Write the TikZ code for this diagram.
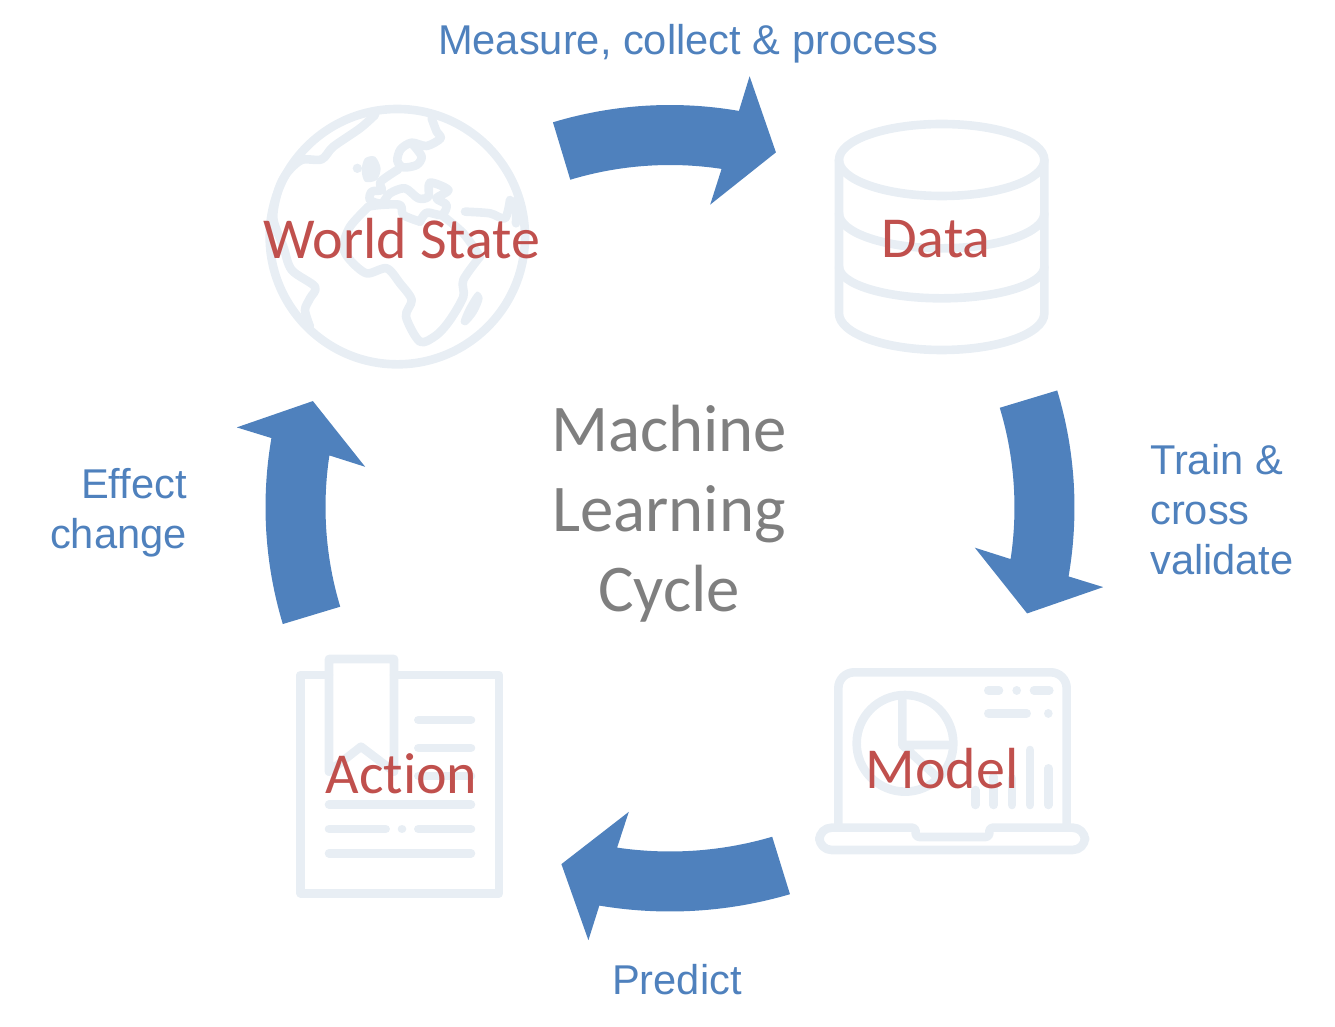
\documentclass[tikz,border=0pt]{standalone}
\usepackage{fontspec}
\setmainfont[Ligatures=NoCommon]{Carlito}
\newfontfamily\labelfont{Liberation Sans}
\definecolor{flow}{HTML}{4F81BD}
\definecolor{stage}{HTML}{C0504D}
\definecolor{icon}{HTML}{E8EEF4}
\definecolor{title}{HTML}{7F7F7F}
\tikzset{
  iconline/.style={draw=icon,line width=4.9pt,line cap=round,line join=round},
  zoomed/.style={shift={#1},xscale=1/3,yscale=-1/3},
  stagetext/.style={text=stage,font=\fontsize{33}{33}\selectfont},
  flowtext/.style={text=flow,font=\labelfont\fontsize{23.7}{28.5}\selectfont},
}
\begin{document}
\begin{tikzpicture}[x=.02cm,y=.02cm]
\useasboundingbox (-670,510) rectangle (665,-517);

% block arrows
\foreach \r/\dx/\dy/\s in {0/0/0/1,-90/-0.5/2.5/1,-180/0/3.5/1.025,-270/0.5/3/1}
  \fill[flow,shift={(\dx,\dy)},xscale=\s,rotate=\r] (106.8:405) arc (106.8:80.2:405) -- (79.6:441) -- (73.5:373)
    -- (82.5:308) -- (81.4:345) arc (81.4:106.8:345) -- cycle;

% globe
\begin{scope}[zoomed={(-420,420)}]
\draw[iconline] (442,440) circle (383);
\draw[iconline] plot[smooth] coordinates {(375,75) (330,115) (250,170) (215,208) (155,210) (110,250) (85,300) (70,385) (100,470) (125,540) (195,590) (180,625) (165,660) (180,710)};
\draw[iconline] plot[smooth] coordinates {(545,85) (560,125) (572,145) (530,168) (485,158) (452,178) (442,212) (460,232) (500,225) (515,200) (490,165)};
\draw[iconline] plot[smooth] coordinates {(445,238) (392,275) (395,300) (365,305) (360,330) (395,340) (420,310) (465,295) (505,325) (535,320) (540,278) (595,300) (560,325) (590,345) (575,375) (530,368) (510,395)};
\draw[iconline] plot[smooth] coordinates {(355,350) (390,345) (450,345) (460,375) (510,395)};
\draw[iconline] plot[smooth] coordinates {(355,350) (300,410) (280,470) (300,510) (350,550) (410,535) (450,580) (485,630) (468,680) (510,755) (560,735) (600,690) (640,620) (640,570) (690,500)};
\draw[iconline] plot[smooth] coordinates {(575,375) (640,430) (690,500)};
\draw[iconline] plot[smooth] coordinates {(645,365) (720,370) (765,385) (780,330)};
\draw[iconline] (800,330) -- (798,400);
\fill[icon] plot[smooth cycle] coordinates {(680,605) (698,625) (680,670) (650,705) (632,695) (650,650)};
\fill[icon] plot[smooth cycle] coordinates {(345,205) (375,200) (392,235) (380,270) (345,275) (335,240)};
\fill[icon] (322,235) circle (14);
\end{scope}

% database
\begin{scope}[zoomed={(150,405)}]
\draw[iconline] (365,165) ellipse (308 and 108);
\draw[iconline] (57,165) -- (57,625) arc (180:0:308 and 110) -- (673,165);
\draw[iconline] (57,325) arc (180:0:308 and 105);
\draw[iconline] (57,485) arc (180:0:308 and 95);
\end{scope}

% laptop
\begin{scope}[zoomed={(130,-140)}]
\draw[iconline,rounded corners=9pt] (115,525) -- (115,67) -- (800,67) -- (800,525);
\draw[iconline] (347,533) [rounded corners=2pt] -- (347,561) -- (568,561) -- (568,533) [rounded corners=7pt] -- (855,533) -- (855,600) -- (58,600) -- (58,533) [rounded corners=2pt] -- cycle;
\draw[iconline] (315,280) circle (145);
\draw[iconline] (307,150) -- (307,285) -- (445,285) (307,285) -- (410,380);
\draw[iconline] (565,121) -- (597,121) (650,121) -- (650.1,121) (702,121) -- (748,121);
\draw[iconline] (565,190) -- (680,190) (745,190) -- (745.1,190);
\foreach \x/\y in {526/420,581/380,636/385,690/300,745/355}
  \draw[iconline] (\x,\y) -- (\x,465);
\end{scope}

% document
\begin{scope}[zoomed={(-390,-135)}]
\draw[iconline] (147,90) -- (62,90) -- (62,745) -- (657,745) -- (657,90) -- (342,90);
\draw[iconline] (147,380) -- (147,42) -- (342,42) -- (342,380) -- (243,305) -- cycle;
\foreach \y in {225,309,393}
  \draw[iconline] (415,\y) -- (573,\y);
\draw[iconline] (147,479) -- (573,479) (147,625) -- (573,625);
\draw[iconline] (147,552) -- (317,552) (366,552) -- (366.1,552) (415,552) -- (573,552);
\end{scope}

% stages
\node[stagetext] (state) at (-268,271) {World State};
\node[stagetext] (data) at (266,271) {Data};
\node[stagetext] (model) at (272,-259) {Model};
\node[stagetext] (action) at (-268.5,-264) {Action};

\node[text=title,align=center,font=\fontsize{38}{45.5}\selectfont] (cycle) at (-1,-4) {Machine\\Learning\\Cycle};

% stage labels
\node[flowtext] (measure) at (18,466) {Measure, collect \& process};
\node[flowtext,align=left,anchor=west] (train) at (474,0) {Train \&\\cross\\validate};
\node[flowtext] (predict) at (7,-470) {Predict};
\node[flowtext,align=right,anchor=east] (effect) at (-477,-3) {Effect\\change};
\end{tikzpicture}
\end{document}
